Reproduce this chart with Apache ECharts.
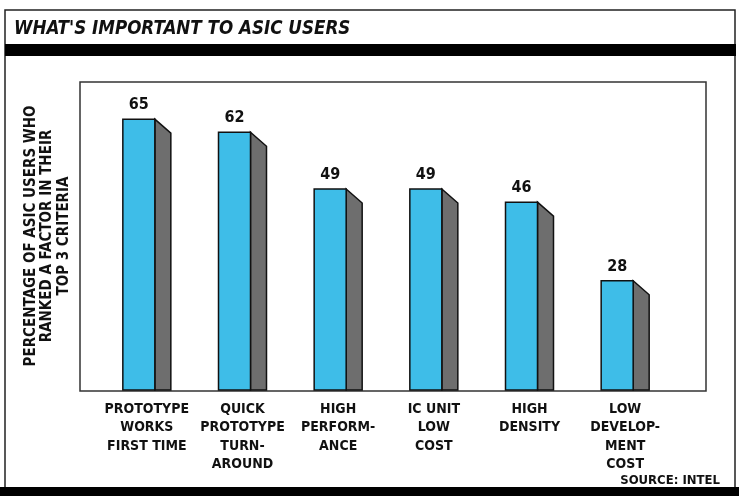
<!DOCTYPE html>
<html><head><meta charset="utf-8">
<script src="https://cdn.jsdelivr.net/npm/echarts@6/dist/echarts.min.js"></script>
<style>html,body{margin:0;padding:0;background:#fff}#c{width:739px;height:496px}</style>
</head><body><div id="c"></div>
<script>
const categories = ['PROTOTYPE\nWORKS\nFIRST TIME','QUICK\nPROTOTYPE\nTURN-\nAROUND','HIGH\nPERFORM-\nANCE','IC UNIT\nLOW\nCOST','HIGH\nDENSITY','LOW\nDEVELOP-\nMENT\nCOST'];
const values = [65, 62, 49, 49, 46, 28];
const titleText = "WHAT'S IMPORTANT TO ASIC USERS";
const yAxisTitle = 'PERCENTAGE OF ASIC USERS WHO\nRANKED A FACTOR IN THEIR\nTOP 3 CRITERIA';
const sourceText = 'SOURCE: INTEL';

const FONT = "'DejaVu Sans Condensed','Liberation Sans Narrow',sans-serif";
const YMIN = 3, YMAX = 73.5;
const chart = echarts.init(document.getElementById('c'), null, {renderer:'canvas'});
chart.setOption({
  animation:false,
  backgroundColor:'#fff',
  title:{text:titleText,left:9,top:15,textStyle:{fontFamily:FONT,fontStyle:'italic',fontWeight:'bold',fontSize:18.6,color:'#111'}},
  grid:{left:99,top:82,width:574,height:308,outerBoundsMode:'none',containLabel:false},
  xAxis:{type:'category',data:categories,
    axisLine:{show:false},axisTick:{show:false},
    axisLabel:{interval:0,margin:10,fontFamily:FONT,fontWeight:'bold',fontSize:14,lineHeight:18.5,color:'#111',verticalAlign:'top'}},
  yAxis:{type:'value',min:YMIN,max:YMAX,
    axisLine:{show:false},axisTick:{show:false},axisLabel:{show:false},splitLine:{show:false},
    name:yAxisTitle,nameLocation:'middle',nameRotate:90,nameGap:27,
    nameTextStyle:{fontFamily:FONT,fontWeight:'bold',fontSize:15,lineHeight:16.5,color:'#111'}},
  graphic:[
    {type:'rect',z:-10,shape:{x:5,y:10,width:730,height:478},style:{fill:'none',stroke:'#222',lineWidth:1.5}},
    {type:'rect',z:-10,shape:{x:5,y:44,width:731,height:12},style:{fill:'#000'}},
    {type:'rect',z:-10,shape:{x:80,y:82,width:626,height:309},style:{fill:'none',stroke:'#333',lineWidth:1.5}},
    {type:'rect',z:-10,shape:{x:0,y:487,width:739,height:9},style:{fill:'#000'}},
    {type:'text',z:10,x:720,y:480.5,style:{text:sourceText,align:'right',verticalAlign:'middle',font:'bold 13px '+FONT,fill:'#111'}}
  ],
  series:[{
    type:'custom',
    data: values.map((v,i)=>[i,v]),
    renderItem(params, api){
      const i = api.value(0), v = api.value(1);
      const top = api.coord([i, v]);
      const base = api.coord([i, YMIN]);
      const cx = top[0];
      const fw = 32, sw = 16, dy = 14;
      const fl = cx - 24, fr = cx + 8;
      return {type:'group', children:[
        {type:'polygon', shape:{points:[[fr,top[1]],[fr+sw,top[1]+dy],[fr+sw,base[1]],[fr,base[1]]]}, style:{fill:'#6e6e6e',stroke:'#111',lineWidth:1.5}},
        {type:'rect', shape:{x:fl,y:top[1],width:fw,height:base[1]-top[1]}, style:{fill:'#3ebde8',stroke:'#111',lineWidth:1.5}},
        {type:'text', x:cx-8, y:top[1]-6, style:{text:String(v), align:'center', verticalAlign:'bottom', font:'bold 16px '+FONT, fill:'#111'}}
      ]};
    }
  }]
});
</script></body></html>
